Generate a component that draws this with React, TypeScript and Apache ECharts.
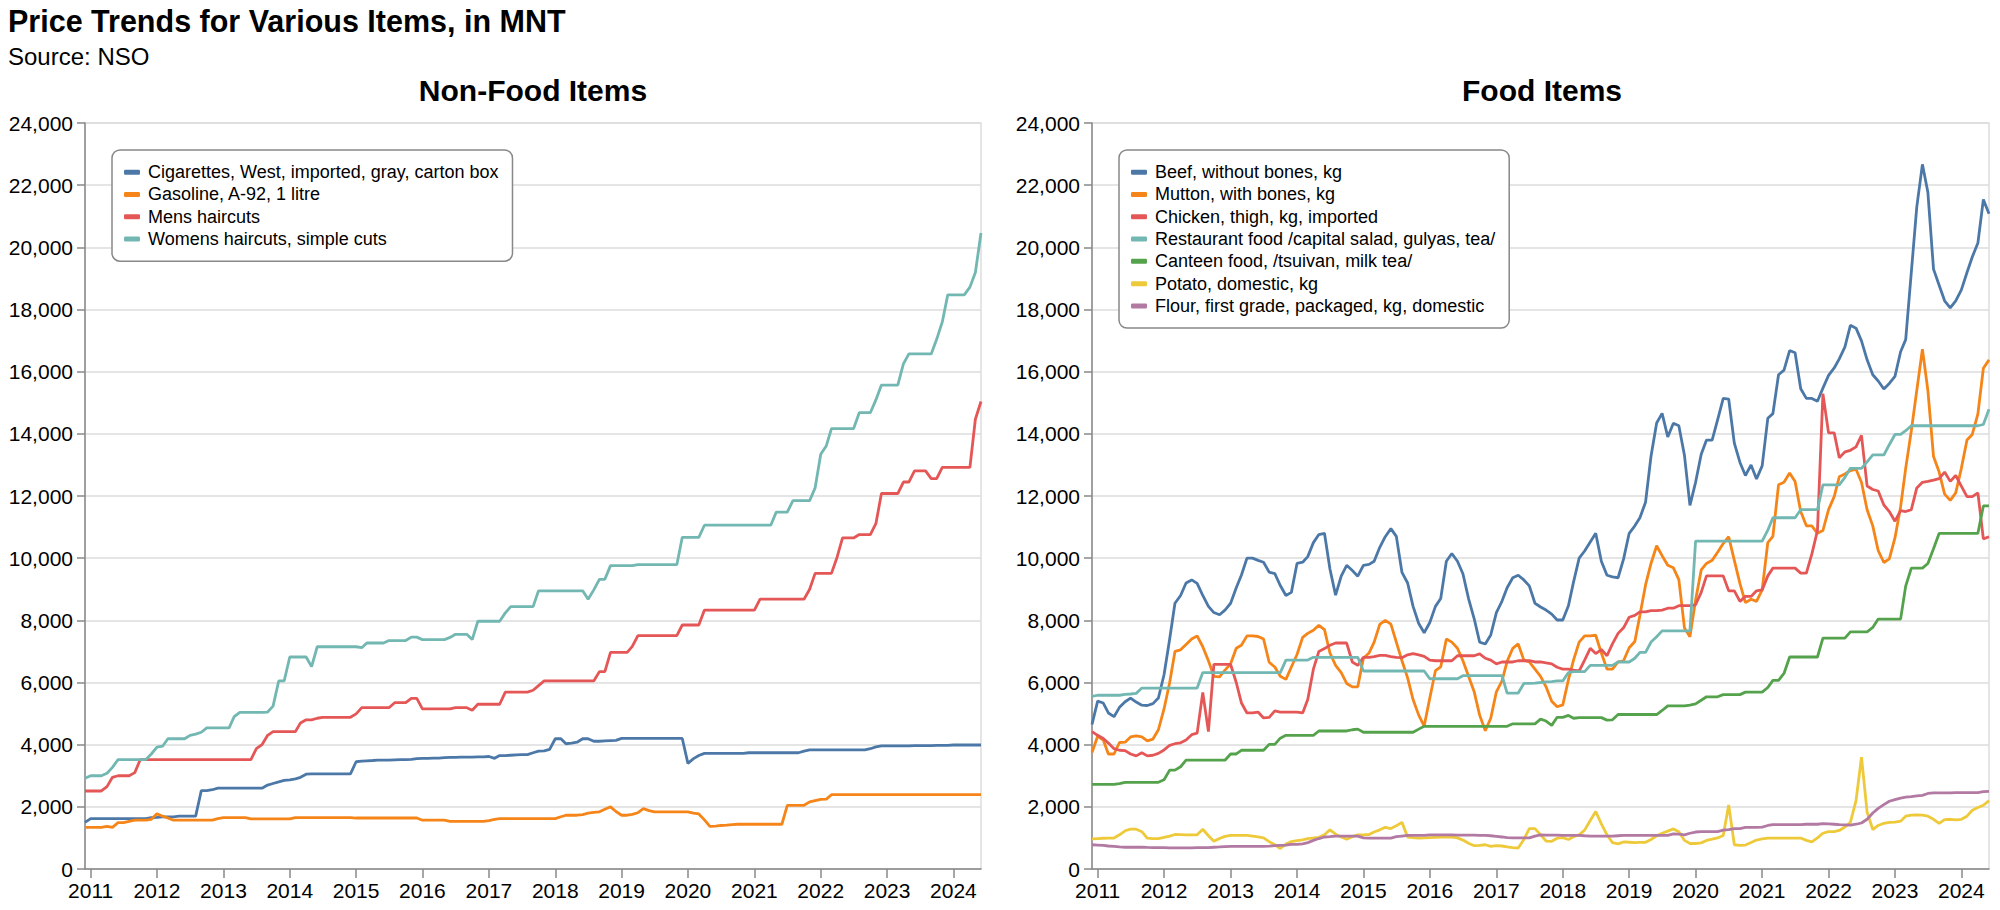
import React, { useEffect, useRef } from "react";
import * as echarts from "echarts";

// Monthly observations from Dec 2010 to Jun 2024 (163 months). Rows: Dec 2010, then one row per year.
const FIRST_YEAR = 2010;
const FIRST_MONTH = 11; // December (0-based)

const yearTicks = [2011, 2012, 2013, 2014, 2015, 2016, 2017, 2018, 2019, 2020, 2021, 2022, 2023, 2024];

// ---------- Non-food items ----------
const cigarettes = [
  1500,
  1620, 1620, 1620, 1620, 1620, 1620, 1620, 1620, 1620, 1620, 1620, 1650,
  1660, 1680, 1680, 1680, 1700, 1700, 1700, 1700, 2520, 2520, 2550, 2600,
  2600, 2600, 2600, 2600, 2600, 2600, 2600, 2600, 2700, 2750, 2800, 2850,
  2870, 2900, 2950, 3050, 3060, 3060, 3060, 3060, 3060, 3060, 3060, 3060,
  3450, 3470, 3480, 3490, 3500, 3500, 3500, 3510, 3520, 3520, 3530, 3550,
  3560, 3560, 3570, 3570, 3580, 3590, 3590, 3600, 3600, 3600, 3610, 3610,
  3620, 3560, 3650, 3650, 3660, 3670, 3680, 3680, 3740, 3790, 3800, 3850,
  4190, 4190, 4030, 4050, 4080, 4190, 4190, 4110, 4110, 4120, 4130, 4140,
  4200, 4200, 4200, 4200, 4200, 4200, 4200, 4200, 4200, 4200, 4200, 4200,
  3400, 3550, 3650, 3720, 3720, 3720, 3720, 3720, 3720, 3720, 3720, 3740,
  3740, 3740, 3740, 3740, 3740, 3740, 3740, 3740, 3740, 3790, 3830, 3830,
  3830, 3830, 3830, 3830, 3830, 3830, 3830, 3830, 3830, 3870, 3930, 3960,
  3960, 3960, 3960, 3960, 3960, 3970, 3970, 3970, 3970, 3980, 3980, 3980,
  3990, 3990, 3990, 3990, 3990, 3990,
];

const gasoline = [
  1340,
  1340, 1340, 1340, 1370, 1340, 1490, 1490, 1530, 1570, 1570, 1570, 1600,
  1780, 1700, 1640, 1570, 1570, 1570, 1570, 1570, 1570, 1570, 1570, 1620,
  1650, 1650, 1650, 1650, 1650, 1610, 1610, 1610, 1610, 1610, 1610, 1610,
  1610, 1650, 1650, 1650, 1650, 1650, 1650, 1650, 1650, 1650, 1650, 1650,
  1640, 1640, 1640, 1640, 1640, 1640, 1640, 1640, 1640, 1640, 1640, 1640,
  1570, 1570, 1570, 1570, 1570, 1530, 1530, 1530, 1530, 1530, 1530, 1530,
  1560, 1600, 1620, 1620, 1620, 1620, 1620, 1620, 1620, 1620, 1620, 1620,
  1620, 1680, 1730, 1730, 1730, 1750, 1800, 1820, 1840, 1920, 2000, 1850,
  1730, 1730, 1760, 1810, 1940, 1880, 1840, 1840, 1840, 1840, 1840, 1840,
  1840, 1800, 1770, 1580, 1370, 1380, 1400, 1410, 1430, 1440, 1440, 1440,
  1440, 1440, 1440, 1440, 1440, 1440, 2050, 2050, 2050, 2050, 2160, 2200,
  2240, 2250, 2390, 2390, 2390, 2390, 2390, 2390, 2390, 2390, 2390, 2390,
  2390, 2390, 2390, 2390, 2390, 2390, 2390, 2390, 2390, 2390, 2390, 2390,
  2390, 2390, 2390, 2390, 2390, 2390,
];

const mensHaircuts = [
  2510,
  2510, 2510, 2510, 2650, 2950, 3000, 3000, 3000, 3100, 3520, 3520, 3520,
  3520, 3520, 3520, 3520, 3520, 3520, 3520, 3520, 3520, 3520, 3520, 3520,
  3520, 3520, 3520, 3520, 3520, 3520, 3870, 4000, 4300, 4420, 4420, 4420,
  4420, 4420, 4700, 4800, 4800, 4850, 4880, 4880, 4880, 4880, 4880, 4880,
  4990, 5190, 5190, 5190, 5190, 5190, 5190, 5350, 5350, 5350, 5490, 5490,
  5150, 5150, 5150, 5150, 5150, 5150, 5190, 5190, 5190, 5110, 5300, 5300,
  5300, 5300, 5300, 5690, 5690, 5690, 5690, 5690, 5750, 5900, 6050, 6050,
  6050, 6050, 6050, 6050, 6050, 6050, 6050, 6050, 6350, 6350, 6970, 6970,
  6970, 6970, 7160, 7510, 7510, 7510, 7510, 7510, 7510, 7510, 7510, 7850,
  7850, 7850, 7850, 8330, 8330, 8330, 8330, 8330, 8330, 8330, 8330, 8330,
  8330, 8680, 8680, 8680, 8680, 8680, 8680, 8680, 8680, 8680, 9000, 9510,
  9510, 9510, 9510, 10030, 10650, 10650, 10650, 10760, 10760, 10760, 11120, 12080,
  12080, 12080, 12080, 12450, 12450, 12810, 12810, 12810, 12560, 12560, 12920, 12920,
  12920, 12920, 12920, 12920, 14470, 15040,
];

const womensHaircuts = [
  2920,
  3000, 3000, 3000, 3080, 3270, 3520, 3520, 3520, 3520, 3520, 3520, 3700,
  3920, 3950, 4190, 4190, 4190, 4190, 4300, 4340, 4400, 4540, 4540, 4540,
  4540, 4540, 4900, 5040, 5040, 5040, 5040, 5040, 5050, 5240, 6050, 6050,
  6820, 6820, 6820, 6820, 6510, 7150, 7150, 7150, 7150, 7150, 7150, 7150,
  7150, 7120, 7270, 7270, 7270, 7270, 7350, 7350, 7350, 7350, 7460, 7460,
  7380, 7380, 7380, 7380, 7380, 7450, 7550, 7550, 7550, 7380, 7970, 7970,
  7970, 7970, 7970, 8240, 8440, 8440, 8440, 8440, 8440, 8950, 8950, 8950,
  8950, 8950, 8950, 8950, 8950, 8950, 8680, 8980, 9320, 9320, 9760, 9760,
  9760, 9760, 9760, 9790, 9790, 9790, 9790, 9790, 9790, 9790, 9790, 10670,
  10670, 10670, 10670, 11060, 11060, 11060, 11060, 11060, 11060, 11060, 11060, 11060,
  11060, 11060, 11060, 11060, 11480, 11480, 11480, 11850, 11850, 11850, 11850, 12260,
  13340, 13620, 14170, 14170, 14170, 14170, 14170, 14680, 14680, 14680, 15100, 15570,
  15570, 15570, 15570, 16250, 16570, 16570, 16570, 16570, 16570, 17040, 17600, 18470,
  18470, 18470, 18470, 18720, 19190, 20460,
];

// ---------- Food items ----------
const beef = [
  4650,
  5400, 5340, 5020, 4900, 5200, 5380, 5500, 5370, 5270, 5260, 5320, 5500,
  6250, 7400, 8550, 8800, 9200, 9300, 9190, 8800, 8450, 8250, 8180, 8330,
  8550, 9050, 9450, 10000, 10000, 9930, 9870, 9550, 9500, 9120, 8800, 8900,
  9830, 9870, 10050, 10500, 10760, 10800, 9650, 8810, 9420, 9770, 9600, 9420,
  9770, 9800, 9900, 10350, 10690, 10950, 10700, 9540, 9200, 8450, 7900, 7600,
  7930, 8450, 8700, 9900, 10150, 9900, 9500, 8700, 8050, 7300, 7240, 7530,
  8250, 8620, 9050, 9370, 9450, 9300, 9110, 8550, 8430, 8330, 8200, 8010,
  8010, 8470, 9230, 10000, 10230, 10520, 10800, 9900, 9450, 9400, 9370, 9970,
  10800, 11040, 11300, 11800, 13280, 14350, 14660, 13900, 14340, 14260, 13300, 11700,
  12440, 13340, 13800, 13800, 14450, 15140, 15120, 13700, 13080, 12660, 13000, 12550,
  12970, 14500, 14650, 15900, 16050, 16680, 16610, 15450, 15140, 15140, 15050, 15470,
  15880, 16120, 16410, 16800, 17490, 17400, 16990, 16380, 15900, 15700, 15440, 15620,
  15850, 16640, 17030, 19200, 21300, 22670, 21770, 19300, 18780, 18280, 18050, 18280,
  18630, 19190, 19690, 20140, 21540, 21080,
];

const mutton = [
  3750,
  4270, 4150, 3700, 3700, 4070, 4080, 4250, 4280, 4250, 4120, 4180, 4480,
  5150, 6000, 7000, 7050, 7220, 7400, 7500, 7150, 6700, 6200, 6180, 6400,
  6600, 7100, 7200, 7500, 7500, 7480, 7400, 6650, 6500, 6200, 6100, 6500,
  6900, 7450, 7580, 7680, 7840, 7700, 6950, 6550, 6320, 5970, 5860, 5860,
  6780, 6950, 7300, 7870, 8000, 7880, 7300, 6700, 6150, 5450, 4950, 4600,
  5500, 6380, 6500, 7400, 7300, 7100, 6700, 6200, 5700, 4950, 4450, 4850,
  5700, 6050, 6680, 7100, 7240, 6720, 6660, 6430, 6200, 5860, 5400, 5220,
  5280, 6090, 6720, 7300, 7500, 7500, 7520, 6950, 6430, 6430, 6660, 6700,
  7120, 7320, 8160, 9140, 9830, 10400, 10080, 9770, 9690, 9310, 7750, 7470,
  8650, 9620, 9830, 9930, 10190, 10470, 10690, 9930, 9180, 8570, 8680, 8610,
  8980, 10500, 10700, 12360, 12440, 12740, 12470, 11500, 11040, 11040, 10800, 10890,
  11560, 11980, 12620, 12710, 12820, 12860, 12440, 11560, 11040, 10240, 9860, 9980,
  10650, 11650, 12890, 14100, 15400, 16720, 15400, 13270, 12770, 12060, 11860, 12100,
  12890, 13800, 13980, 14640, 16110, 16380,
];

const chicken = [
  4420,
  4300, 4200, 4050, 3870, 3820, 3810, 3700, 3640, 3740, 3640, 3660, 3720,
  3830, 3980, 4030, 4060, 4150, 4320, 4370, 5680, 4420, 6580, 6580, 6580,
  6580, 6000, 5350, 5020, 5020, 5050, 4860, 4880, 5085, 5050, 5050, 5050,
  5050, 5020, 5450, 6430, 7000, 7090, 7200, 7270, 7270, 7270, 6660, 6550,
  6810, 6810, 6830, 6870, 6870, 6830, 6810, 6800, 6890, 6930, 6890, 6840,
  6720, 6700, 6700, 6700, 6700, 6860, 6860, 6860, 6860, 6920, 6780, 6720,
  6600, 6660, 6660, 6660, 6700, 6700, 6700, 6660, 6660, 6630, 6600, 6490,
  6430, 6430, 6400, 6370, 6720, 7100, 6930, 7060, 6860, 7240, 7580, 7760,
  8100, 8160, 8270, 8270, 8310, 8310, 8330, 8390, 8390, 8470, 8470, 8470,
  8500, 8900, 9430, 9430, 9430, 9430, 8950, 8950, 8610, 8770, 8770, 8950,
  8980, 9430, 9680, 9680, 9680, 9680, 9680, 9520, 9520, 10130, 10890, 15290,
  14030, 14030, 13230, 13420, 13470, 13580, 13950, 12320, 12210, 12160, 11710, 11500,
  11190, 11530, 11500, 11560, 12260, 12440, 12470, 12510, 12560, 12770, 12470, 12660,
  12320, 11980, 11980, 12100, 10620, 10690,
];

const restaurantFood = [
  5550,
  5590, 5590, 5590, 5590, 5590, 5620, 5630, 5650, 5820, 5820, 5820, 5820,
  5820, 5820, 5820, 5820, 5820, 5820, 5820, 6320, 6320, 6320, 6320, 6320,
  6320, 6320, 6320, 6320, 6320, 6320, 6320, 6320, 6320, 6320, 6720, 6720,
  6720, 6720, 6720, 6810, 6810, 6810, 6810, 6810, 6810, 6810, 6810, 6810,
  6370, 6370, 6370, 6370, 6370, 6370, 6370, 6370, 6370, 6370, 6370, 6370,
  6120, 6120, 6120, 6120, 6120, 6120, 6220, 6220, 6220, 6220, 6220, 6220,
  6220, 6220, 5660, 5660, 5660, 5970, 5970, 5980, 6000, 6020, 6030, 6050,
  6050, 6320, 6350, 6350, 6350, 6550, 6550, 6550, 6550, 6550, 6660, 6660,
  6660, 6780, 6970, 6970, 7300, 7470, 7660, 7660, 7660, 7660, 7660, 7660,
  10550, 10550, 10550, 10550, 10550, 10550, 10550, 10550, 10550, 10550, 10550, 10550,
  10550, 10900, 11300, 11300, 11300, 11300, 11300, 11560, 11560, 11560, 11560, 12360,
  12360, 12360, 12360, 12600, 12890, 12890, 12890, 13100, 13320, 13320, 13320, 13650,
  13980, 13980, 14100, 14260, 14260, 14260, 14260, 14260, 14260, 14260, 14260, 14260,
  14260, 14260, 14260, 14260, 14300, 14790,
];

const canteenFood = [
  2720,
  2720, 2720, 2720, 2720, 2750, 2790, 2790, 2790, 2790, 2790, 2790, 2790,
  2870, 3180, 3180, 3290, 3500, 3500, 3500, 3500, 3500, 3500, 3500, 3500,
  3700, 3700, 3820, 3820, 3820, 3820, 3820, 4010, 4010, 4210, 4300, 4300,
  4300, 4300, 4300, 4300, 4440, 4440, 4440, 4440, 4440, 4440, 4480, 4500,
  4400, 4400, 4400, 4400, 4400, 4400, 4400, 4400, 4400, 4400, 4500, 4590,
  4590, 4590, 4590, 4590, 4590, 4590, 4590, 4590, 4590, 4590, 4590, 4590,
  4590, 4590, 4590, 4670, 4670, 4670, 4670, 4670, 4820, 4760, 4620, 4880,
  4880, 4940, 4850, 4870, 4870, 4870, 4870, 4870, 4790, 4800, 4970, 4970,
  4970, 4970, 4970, 4970, 4970, 4970, 5100, 5250, 5250, 5250, 5250, 5270,
  5310, 5430, 5540, 5540, 5540, 5610, 5610, 5610, 5610, 5690, 5690, 5690,
  5690, 5840, 6070, 6070, 6290, 6820, 6820, 6820, 6820, 6820, 6820, 7430,
  7430, 7430, 7430, 7430, 7630, 7630, 7630, 7630, 7770, 8040, 8040, 8040,
  8040, 8040, 9100, 9680, 9680, 9680, 9830, 10300, 10800, 10800, 10800, 10800,
  10800, 10800, 10800, 10800, 11680, 11680,
];

const potato = [
  970,
  980, 990, 995, 995, 1100, 1230, 1280, 1280, 1200, 990, 975, 980,
  1020, 1060, 1110, 1105, 1100, 1100, 1100, 1280, 1070, 890, 980, 1050,
  1080, 1080, 1080, 1080, 1060, 1030, 1000, 880, 780, 660, 800, 880,
  910, 940, 980, 1000, 1020, 1100, 1260, 1120, 1030, 960, 1040, 1100,
  1100, 1110, 1190, 1260, 1340, 1300, 1390, 1500, 1030, 1010, 995, 1000,
  1010, 1020, 1025, 1025, 1025, 1000, 930, 830, 750, 760, 780, 730,
  750, 740, 710, 690, 675, 950, 1300, 1300, 1100, 900, 890, 990,
  1010, 950, 1040, 1100, 1250, 1560, 1850, 1450, 1100, 850, 810, 870,
  860, 850, 855, 860, 950, 1070, 1150, 1220, 1290, 1200, 920, 820,
  820, 840, 920, 960, 1000, 1080, 2060, 780, 760, 770, 850, 930,
  970, 994, 995, 995, 995, 995, 995, 995, 920, 870, 1000, 1150,
  1200, 1200, 1240, 1350, 1500, 2200, 3600, 1830, 1270, 1400, 1470, 1500,
  1510, 1540, 1700, 1730, 1740, 1730, 1700, 1600, 1470, 1590, 1600, 1580,
  1600, 1700, 1890, 1980, 2050, 2200,
];

const flour = [
  780,
  770, 760, 740, 725, 710, 700, 700, 700, 700, 695, 690, 690,
  685, 680, 680, 680, 680, 680, 690, 690, 690, 700, 710, 720,
  725, 730, 730, 730, 730, 730, 730, 735, 750, 760, 770, 790,
  790, 810, 850, 920, 980, 1030, 1040, 1058, 1058, 1058, 1058, 1058,
  1000, 994, 994, 994, 994, 994, 1040, 1060, 1080, 1080, 1080, 1080,
  1100, 1100, 1100, 1100, 1100, 1090, 1090, 1090, 1090, 1080, 1080, 1070,
  1050, 1030, 1010, 1000, 1000, 1000, 1000, 1060, 1100, 1090, 1090, 1090,
  1085, 1080, 1080, 1080, 1070, 1060, 1060, 1060, 1060, 1060, 1070, 1080,
  1080, 1080, 1080, 1080, 1080, 1080, 1080, 1080, 1130, 1120, 1100, 1150,
  1190, 1200, 1200, 1200, 1200, 1250, 1270, 1300, 1300, 1340, 1340, 1340,
  1350, 1400, 1430, 1430, 1430, 1430, 1430, 1430, 1440, 1440, 1440, 1460,
  1450, 1440, 1430, 1420, 1410, 1440, 1480, 1600, 1800, 1950, 2070, 2180,
  2230, 2280, 2310, 2330, 2350, 2370, 2430, 2450, 2450, 2450, 2450, 2460,
  2460, 2460, 2460, 2460, 2490, 2500,
];

const nonFoodSeries = [
  { name: "Cigarettes, West, imported, gray, carton box", values: cigarettes, color: "#4c78a8" },
  { name: "Gasoline, A-92, 1 litre", values: gasoline, color: "#f58518" },
  { name: "Mens haircuts", values: mensHaircuts, color: "#e45756" },
  { name: "Womens haircuts, simple cuts", values: womensHaircuts, color: "#72b7b2" },
];

const foodSeries = [
  { name: "Beef, without bones, kg", values: beef, color: "#4c78a8" },
  { name: "Mutton, with bones, kg", values: mutton, color: "#f58518" },
  { name: "Chicken, thigh, kg, imported", values: chicken, color: "#e45756" },
  { name: "Restaurant food /capital salad, gulyas, tea/", values: restaurantFood, color: "#72b7b2" },
  { name: "Canteen food, /tsuivan, milk tea/", values: canteenFood, color: "#54a24b" },
  { name: "Potato, domestic, kg", values: potato, color: "#eeca3b" },
  { name: "Flour, first grade, packaged, kg, domestic", values: flour, color: "#b279a2" },
];

const FONT = "'Liberation Sans', Arial, Helvetica, sans-serif";

export default function App() {
  const ref = useRef<HTMLDivElement>(null);

  useEffect(() => {
    document.body.style.margin = "0";
    if (!ref.current) return;
    const chart = echarts.init(ref.current, undefined, { renderer: "svg" });

    const months = cigarettes.map((_, i) => new Date(FIRST_YEAR, FIRST_MONTH + i, 1).getTime());
    const tickValues = yearTicks.map((y) => new Date(y, 0, 1).getTime());
    const xMin = months[0];
    const xMax = months[months.length - 1];

    const grids = [
      { left: 85, top: 123, width: 896, height: 746 },
      { left: 1092, top: 123, width: 897, height: 746 },
    ];

    const xAxis = grids.map((_, gi) => ({
      type: "value",
      gridIndex: gi,
      min: xMin,
      max: xMax,
      scale: true,
      axisLine: { show: true, onZero: false, lineStyle: { color: "#888", width: 1.5 } },
      axisTick: { show: true, length: 9, lineStyle: { color: "#888", width: 1.5 }, customValues: tickValues },
      axisLabel: {
        customValues: tickValues,
        formatter: (v: number) => String(new Date(v).getFullYear()),
        fontSize: 21,
        color: "#000",
        fontFamily: FONT,
        margin: 11,
        showMinLabel: true,
        showMaxLabel: true,
      },
      splitLine: { show: false },
    }));

    const yAxis = grids.map((_, gi) => ({
      type: "value",
      gridIndex: gi,
      min: 0,
      max: 24000,
      interval: 2000,
      axisLine: { show: true, onZero: false, lineStyle: { color: "#888", width: 1.5 } },
      axisTick: { show: true, length: 8, lineStyle: { color: "#888", width: 1.5 } },
      axisLabel: {
        formatter: (v: number) => v.toLocaleString("en-US"),
        fontSize: 21,
        color: "#000",
        fontFamily: FONT,
        margin: 12,
      },
      splitLine: { show: true, lineStyle: { color: "#ddd", width: 1.5 } },
    }));

    const mk = (list: typeof foodSeries, gi: number) =>
      list.map((s) => ({
        type: "line",
        name: s.name,
        xAxisIndex: gi,
        yAxisIndex: gi,
        data: s.values.map((v, i) => [months[i], v]),
        showSymbol: false,
        symbol: "none",
        color: s.color,
        lineStyle: { color: s.color, width: 2.8 },
        emphasis: { disabled: true },
        silent: true,
      }));

    const legendBase = {
      orient: "vertical",
      top: 150,
      icon: "roundRect",
      itemWidth: 16,
      itemHeight: 5,
      itemGap: 0,
      padding: [11, 14, 11, 12],
      backgroundColor: "#fff",
      borderColor: "#888",
      borderWidth: 1.5,
      borderRadius: 8,
      selectedMode: false,
      textStyle: { fontSize: 18, color: "#000", fontFamily: FONT, lineHeight: 22.3, padding: [0, 0, 0, 3] },
    };

    chart.setOption({
      animation: false,
      backgroundColor: "#fff",
      textStyle: { fontFamily: FONT },
      grid: grids.map((g) => ({
        ...g,
        show: true,
        borderColor: "#ddd",
        borderWidth: 1.5,
        containLabel: false,
      })),
      xAxis,
      yAxis,
      legend: [
        { ...legendBase, left: 112, data: nonFoodSeries.map((s) => s.name) },
        { ...legendBase, left: 1119, data: foodSeries.map((s) => s.name) },
      ],
      series: [...mk(nonFoodSeries, 0), ...mk(foodSeries, 1)],
      graphic: [
        {
          type: "text",
          x: 8,
          y: 21,
          style: { text: "Price Trends for Various Items, in MNT", font: `bold 30.5px ${FONT}`, fill: "#000", verticalAlign: "middle", align: "left" },
        },
        {
          type: "text",
          x: 8,
          y: 56,
          style: { text: "Source: NSO", font: `24px ${FONT}`, fill: "#000", verticalAlign: "middle", align: "left" },
        },
        {
          type: "text",
          x: 533,
          y: 90,
          style: { text: "Non-Food Items", font: `bold 30px ${FONT}`, fill: "#000", verticalAlign: "middle", align: "center" },
        },
        {
          type: "text",
          x: 1542,
          y: 90,
          style: { text: "Food Items", font: `bold 30px ${FONT}`, fill: "#000", verticalAlign: "middle", align: "center" },
        },
      ],
    });

    return () => chart.dispose();
  }, []);

  return <div ref={ref} style={{ width: 2000, height: 910 }} />;
}
